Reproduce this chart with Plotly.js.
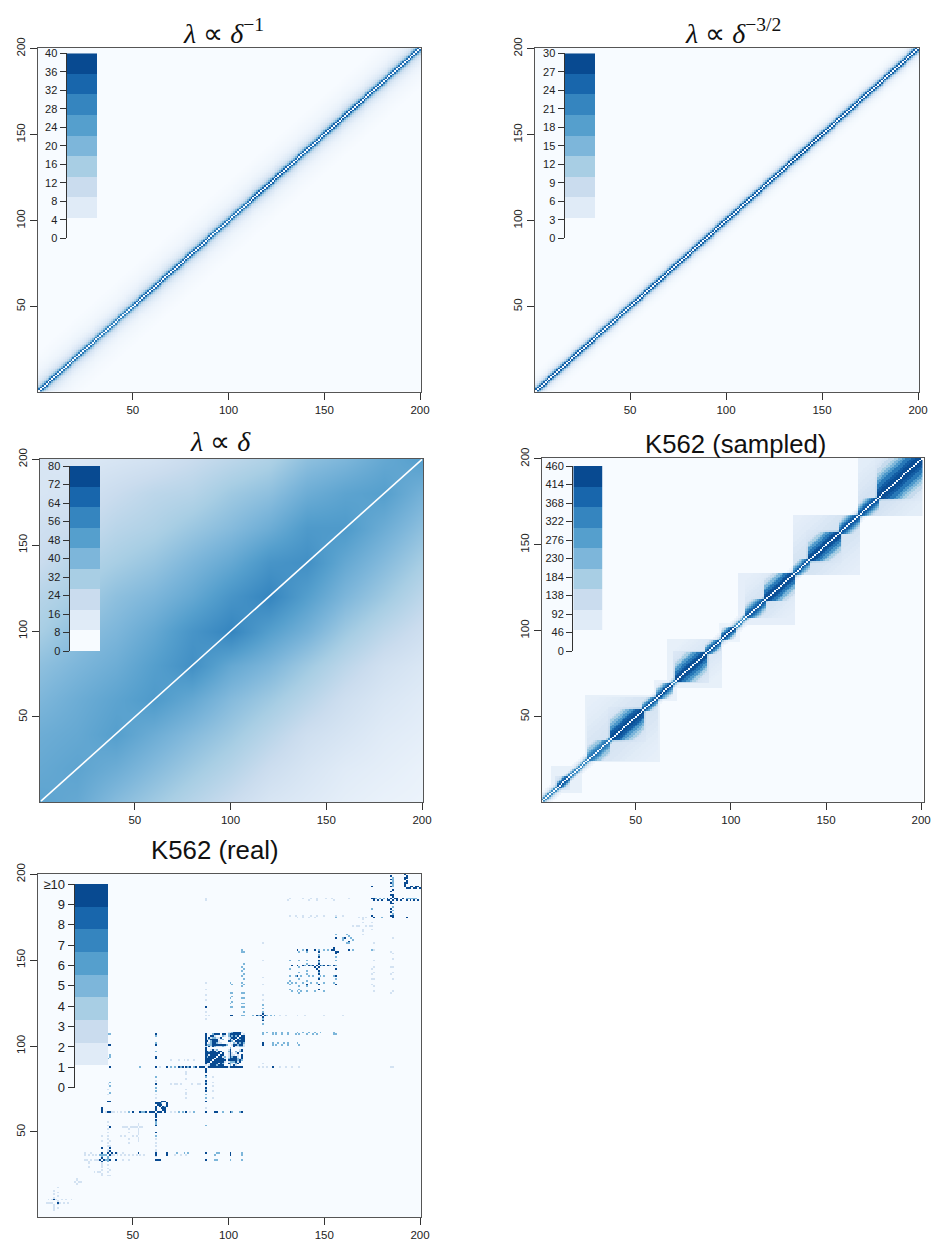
<!DOCTYPE html>
<html><head><meta charset="utf-8">
<script src="https://cdn.plot.ly/plotly-3.0.1.min.js"></script>
<style>html,body{margin:0;padding:0;background:#fff}#c{width:932px;height:1243px}</style></head>
<body><div id="c"></div>
<script>
// ---------- values ----------
const bandColors = ['#F7FBFF','#E0EBF7','#CADCEE','#A8CEE4','#7DB6DA','#559FCD','#3585BF','#1866AC','#084A91'];
const axisTicks = [50,100,150,200];

// strength of the contact band by distance from the diagonal
const bandInv1 = [0,34,20,13,9,7,5.5,4.5,3.6,3,2.5,2.1,1.8,1.5,1.3,1.1,.95,.8,.65,.5,.4,.3,.2,.1];
const bandInv32 = [0,27,15,8,4.5,2.8,1.8,1.2,.8,.5,.3,.15];
// along-diagonal strength, one entry per 20 bins
const alongInv1 = [1,.95,.9,1,1,.95,1.05,1,1.05,1,1];
const alongInv32 = [1,1,.95,1,1,1,1,1.05,1,1,1];

// linear model: coarse reading at every 20 bins
const linGrid = [1,20,40,60,80,100,120,140,160,180,200];
const linZ = [
 [48,46,38,32,26,20,14,11,8,6,5],
 [46,48,44,38,32,26,19,14,10,8,6],
 [44,46,50,44,38,32,25,18,14,10,8],
 [40,44,48,52,46,38,32,25,18,13,10],
 [36,40,44,50,56,46,40,32,24,17,13],
 [30,36,40,46,54,60,50,42,32,24,18],
 [26,30,36,40,46,54,60,50,40,32,24],
 [20,26,30,34,40,46,54,56,46,38,30],
 [18,20,25,28,33,38,44,52,52,44,36],
 [14,16,20,24,26,32,36,44,48,50,42],
 [14,12,14,16,20,24,28,36,40,46,50]];
const diagEnds = [1,200];

// K562 sampled: domains [start,end,level]
const haloDomains = [[6,21,40],[24,62,40],[60,71,35],[67,95,40],[94,104,30],[104,133,45],[133,167,45],[167,200,50]];
const midDomains = [[8,15,150],[25,61,85],[36,55,140],[28,45,80],[44,60,80],[70,88,140],[70,95,75],[108,133,90],[108,120,110],[118,133,120],[133,167,90],[140,158,140],[133,150,85],[150,167,85],[167,200,95],[176,200,130],[167,185,90]];
const coreDomains = [[1,3,300],[6,9,260],[9,15,460],[15,19,420],[25,36,380],[37,54,460],[54,61,430],[61,69,460],[71,87,460],[87,94,440],[95,102,460],[108,118,430],[118,133,460],[133,141,430],[141,157,460],[157,167,440],[167,177,440],[177,200,460]];
const coreFalloff = [460,450,420,370,300,230,170,120,80,50,25];
const ridge = [0,330,170,80,40,20];

// K562 real: symmetric contacts [bin,[partners]]
const darkPairs = [
 [9,[11]],[34,[33,35,38,41,62,63,64,88]],[38,[37,39,41,53,62,68,88,101]],
 [62,[37,50,54,57,59,60,61,63,64,65,67,78,88,93,94,101,107]],[64,[65,66,67]],[65,[66,68]],[66,[68]],[63,[66,67]],[67,[68]],
 [68,[37,88]],[88,[74,76,78,80,83,85,86,87,123]],[37,[101]],
 [118,[117,119,101,115,102]],[146,[147,145]],[147,[133,139,142,144,148,150,152,155]],[136,[141,147,156]],
 [155,[156,157]],[154,[156]],[156,[141,145,163]],[161,[163]],
 [185,[176,178,180,183,184,186,188,190,193,195,197,199]],[186,[175,176,183,187,188,191]],[192,[193,194,195,197,198,200]],[193,[175,195,196,198,199]],[175,[176]]
];
const midPairs = [
 [37,[36,35,33,93,107]],[34,[36,37,93,94,101,107]],[62,[56,55,48,74,76,82,97,106]],
 [38,[73,77,79,94,95,107]],[88,[70,72,75,79,82,54]],
 [65,[67,62]],[102,[62]],
 [107,[156,155,146,144,141,137,135,131,128,125,123,118]],[101,[137,131,128,125,123,118]],
 [108,[118,120,123,125,128,131,136,139,142,145,148,155]],[102,[123,126,129,131,136]],
 [118,[113,116,120,122,124]],
 [156,[139,145,150,152,165,175]],[147,[140,143,149,153,156]],
 [141,[132,135,138,142,144,148,150,155]],[137,[131,133,135,139,143,146,150,155]],[132,[133,136,138,145,150]],
 [160,[163]],[163,[164]],[162,[165,160]],[186,[177,179,181,193,194,195,196,197,198]],[175,[186,193,180]]
];
const lightPairs = [
 [37,[25,27,29,31,39,40,42,44,46,48,50,52,54,56,72,75,78]],[34,[25,26,28,30,31,32,45,48]],
 [62,[36,39,40,42,44,46,70,72,80]],[53,[45,46,47,49,50,51,52,54,55]],[48,[44,46,50,52]],
 [78,[70,72,73,75,81,84,85]],[92,[70,74,77,79,82]],
 [88,[116,118,120,127,130,133,185,137,64]],[118,[90,130,127,136,140,150,160,88]],
 [186,[88,132,139,143,146,151,154,163,175]],[176,[132,135,139,143,146,150,156,160]],
 [175,[136,139,142,145,156,168,170,172]],[185,[131,142,146,155]],[170,[165,167,168,172,174]],
 [9,[5,6,7,8,12,14,16]],[11,[6,8,10,13,15,18]],[21,[20,22,23]],[27,[30,32,33]],[38,[25,28,42,45]]
];
// dense block, bins 88..108; first string is bin 108, last is bin 88
const denseStart = 88;
const denseMap = [
 "            ..+##.#..",
 "#   +#      +###. #. ",
 ".   ..      +#+#.# #+",
 "#    +.     .+##.+###",
 "#  ####     .#.###+##",
 "## +###.    ##+##  ##",
 "#  +##       .#+   #.",
 "   .       +       . ",
 "                     ",
 "                     ",
 "#  .#.+     .#    .# ",
 "##+###.##   +#  + +# ",
 "###.####    .#. .#   ",
 "##.######   .#.  . # ",
 "#.#####.#   .#+  . # ",
 "##.#.####   +#   +.  ",
 "#.##.###+   ##   +#  ",
 "##.###+##   .+   .#  ",
 "#.#####.    #+. +#   ",
 ".#.###+#.    +  .    ",
 " .######.###.##.#.# "];
const denseValues = {'#':10,'+':5,'.':2};

// legends
const legend1 = {max:40, step:4, labels:null};
const legend2 = {max:30, step:3, labels:null};
const legend3 = {max:80, step:8, labels:null};
const legend4 = {max:460, step:46, labels:null};
const legend5 = {max:10, step:1, labels:['0','1','2','3','4','5','6','7','8','9','≥10']};
const titles = ['<i>λ</i> ∝ <i>δ</i><sup>−1</sup>','<i>λ</i> ∝ <i>δ</i><sup>−3/2</sup>','<i>λ</i> ∝ <i>δ</i>','K562 (sampled)','K562 (real)'];

// ---------- matrices ----------
function blank(){return Array.from({length:200},()=>new Array(200).fill(0));}
function bandMatrix(prof,along){
  const z=blank();
  for(let a=0;a<200;a++)for(let b=0;b<200;b++){
    const d=Math.abs(a-b);
    if(d<prof.length) z[a][b]=prof[d]*along[Math.round((a+b)/2/20)];
  }
  return z;
}
function sampledMatrix(){
  const z=blank();
  const put=(a,b,v)=>{if(a>=1&&b>=1&&a<=200&&b<=200){z[a-1][b-1]=Math.max(z[a-1][b-1],v);}};
  for(const [s,e,v] of haloDomains)for(let a=s;a<=e;a++)for(let b=s;b<=e;b++)put(a,b,v);
  for(const [s,e,v] of midDomains)for(let a=s;a<=e;a++)for(let b=s;b<=e;b++){
    const f=coreFalloff[Math.round(Math.abs(a-b)/(e-s)*10)]/460;put(a,b,v*(.45+.55*f));}
  for(const [s,e,v] of coreDomains)for(let a=s;a<=e;a++)for(let b=s;b<=e;b++){
    const f=coreFalloff[Math.round(Math.abs(a-b)/Math.max(1,e-s)*10)]/460;put(a,b,v*f);}
  for(let a=1;a<=200;a++)for(let d=1;d<ridge.length;d++){put(a,a+d,ridge[d]);put(a+d,a,ridge[d]);}
  for(let a=0;a<200;a++)z[a][a]=0;
  return z;
}
function realMatrix(){
  const z=blank();
  const put=(a,b,v)=>{if(a>=1&&b>=1&&a<=200&&b<=200){z[a-1][b-1]=Math.max(z[a-1][b-1],v);z[b-1][a-1]=Math.max(z[b-1][a-1],v);}};
  const addList=(list,v)=>{for(const [h,ps] of list)for(const p of ps)put(h,p,v);};
  addList(lightPairs,2);addList(midPairs,5);addList(darkPairs,10);
  denseMap.forEach((row,r)=>{
    const j=denseStart+denseMap.length-1-r;
    for(let c=0;c<row.length;c++){const v=denseValues[row[c]];if(v)put(denseStart+c,j,v);}
  });
  for(let a=0;a<200;a++)z[a][a]=0;
  return z;
}
const bins=Array.from({length:200},(_,i)=>i+1);
const colorscale=bandColors.map((c,i)=>[i/(bandColors.length-1),c]);

// ---------- panels: pixel frames ----------
const W=932,H=1243;
const panels=[
 {box:[38,421,47.7,391.7],xr:[.5,200.5],bar:[67,97,53.3,238.3],axisX:65.5,leg:legend1,z:bandMatrix(bandInv1,alongInv1),tx:223,ty:31,font:'Liberation Serif',fs:28},
 {box:[535,919,47.7,391.7],xr:[.5,200.5],bar:[565,595,53.3,238.3],axisX:563.5,leg:legend2,z:bandMatrix(bandInv32,alongInv32),tx:733,ty:31,font:'Liberation Serif',fs:28},
 {box:[40,423,458.5,802],xr:[.5,200.5],bar:[70,100,466,651],axisX:68.5,leg:legend3,x:linGrid,y:linGrid,z:linZ,smooth:'best',line:true,tx:220,ty:441,font:'Liberation Serif',fs:28},
 {box:[541.5,924,458,801.7],xr:[.5,201.5],bar:[573.3,602.7,466,651],axisX:572,leg:legend4,z:sampledMatrix(),tx:735,ty:444,font:'Liberation Sans',fs:25.7},
 {box:[38,421,873.5,1217],xr:[.5,200.5],bar:[75,108,884,1087.7],axisX:73.7,leg:legend5,z:realMatrix(),tx:215,ty:850,font:'Liberation Sans',fs:25.8,legFont:13}
];

const data=[],layout={width:W,height:H,autosize:false,margin:{l:0,r:0,t:0,b:0},paper_bgcolor:'#fff',plot_bgcolor:'rgba(0,0,0,0)',showlegend:false,annotations:[]};
const fx=p=>p/W,fy=p=>1-p/H;
panels.forEach((p,k)=>{
  const n=2*k+1,m=2*k+2;
  const xa=n===1?'x':'x'+n,ya=n===1?'y':'y'+n;
  const xl='x'+m,yl='y'+m;
  data.push({type:'heatmap',x:p.x||bins,y:p.y||bins,z:p.z,zmin:0,zmax:p.leg.max,colorscale,showscale:false,zsmooth:p.smooth||false,hoverinfo:'skip',xaxis:xa,yaxis:ya});
  if(p.line) data.push({type:'scatter',mode:'lines',x:diagEnds,y:diagEnds,line:{color:'#fff',width:1.6},hoverinfo:'skip',xaxis:xa,yaxis:ya});
  const common={tickmode:'array',tickvals:axisTicks,ticks:'outside',ticklen:7,tickwidth:1,tickcolor:'#333',showgrid:false,zeroline:false,showline:true,linecolor:'#555',linewidth:1,mirror:true,tickfont:{family:'Liberation Sans',size:11.5,color:'#222'}};
  layout['xaxis'+(n===1?'':n)]=Object.assign({},common,{range:p.xr,domain:[fx(p.box[0]),fx(p.box[1])],anchor:ya});
  layout['yaxis'+(n===1?'':n)]=Object.assign({},common,{range:[.5,200.5],domain:[fy(p.box[3]),fy(p.box[2])],anchor:xa,tickangle:-90});
  // legend strip
  const edges=bandColors.map((_,i)=>i*p.leg.max/bandColors.length).concat([p.leg.max]);
  const tv=[];for(let v=0;v<=p.leg.max+1e-9;v+=p.leg.step)tv.push(v);
  data.push({type:'heatmap',x:[0,1],y:edges,z:bandColors.map((_,i)=>[i]),zmin:0,zmax:bandColors.length-1,colorscale,showscale:false,hoverinfo:'skip',xaxis:xl,yaxis:yl});
  layout['xaxis'+m]={domain:[fx(p.bar[0]),fx(p.bar[1])],range:[0,1],visible:false,anchor:yl};
  layout['yaxis'+m]={domain:[fy(p.bar[3]),fy(p.bar[2])],range:[0,p.leg.max],anchor:'free',position:fx(p.axisX),
    tickmode:'array',tickvals:tv,ticktext:p.leg.labels||tv.map(String),ticks:'outside',ticklen:6,tickwidth:1,tickcolor:'#333',showline:true,linecolor:'#333',linewidth:1,showgrid:false,zeroline:false,
    tickfont:{family:'Liberation Sans',size:p.legFont||11,color:'#222'}};
  layout.annotations.push({xref:'paper',yref:'paper',x:fx(p.tx),y:fy(p.ty),xanchor:'center',yanchor:'middle',showarrow:false,text:titles[k],font:{family:p.font,size:p.fs,color:'#111'}});
});
Plotly.newPlot('c',data,layout,{staticPlot:true,displayModeBar:false});
</script></body></html>
